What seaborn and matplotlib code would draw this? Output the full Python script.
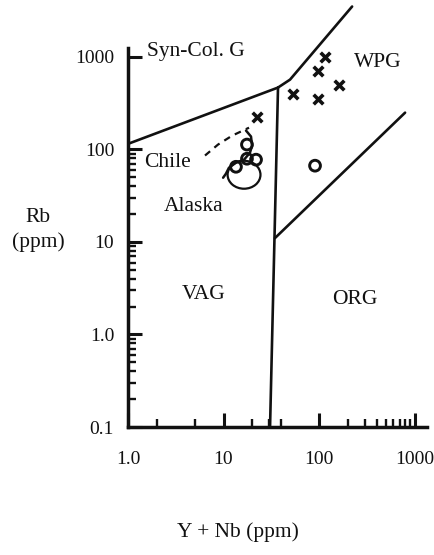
import numpy as np
import pandas as pd
import matplotlib
matplotlib.use("Agg")
import matplotlib.pyplot as plt
from matplotlib.path import Path
from matplotlib.ticker import FixedLocator, FixedFormatter, NullFormatter
import seaborn as sns

# ---------------- data ----------------
# field boundaries (Y+Nb, Rb)
syncol_vag_x = [1.0, 37.2]
syncol_vag_y = [115, 467]
syncol_wpg_x = [37.2, 49.7, 222]
syncol_wpg_y = [467, 569, 3510]
vag_org_x = [30.7, 37.2]
vag_org_y = [0.1, 467]
wpg_org_x = [34.5, 796]
wpg_org_y = [11.0, 250]

# samples
cross_x = [116, 97.7, 162, 53.4, 97.7, 22.4]
cross_y = [1010, 713, 502, 402, 355, 226]
circle_x = [17.6, 17.6, 13.5, 21.9, 90.8]
circle_y = [113, 79.4, 65, 77.6, 66.8]

# field outlines
dashed_field_x = [6.4, 8.76, 12.3, 18.5]
dashed_field_y = [86, 113, 141, 172]
solid_field_x = [17.2, 19.4, 19.9, 18.9, 16.4, 13.5, 11.4, 10.6, 9.9]
solid_field_y = [160, 138, 110, 92, 77.6, 72, 63.5, 54.7, 49.5]
ellipse_x = [16.4]
ellipse_y = [53.3]

# labels
x_ticks = [1, 10, 100, 1000]
x_ticklabels = ["1.0", "10", "100", "1000"]
x_minor = [2, 5, 20, 30, 40, 200, 300, 400, 500, 600, 700, 800, 900]
y_ticks = [0.1, 1, 10, 100, 1000]
y_ticklabels = ["0.1", "1.0", "10", "100", "1000"]
y_minor = [m * 10.0 ** e for e in (-1, 0, 1) for m in range(2, 10)]
region_names = ["Syn-Col. G", "WPG", "Chile", "Alaska", "VAG", "ORG"]
region_x = [5.15, 415, 2.62, 4.91, 6.25, 238]
region_y = [1143, 869, 72, 24, 2.68, 2.37]

# ---------------- style ----------------
sns.set_theme(style="ticks")
plt.rcParams["font.family"] = ["Liberation Serif", "DejaVu Serif"]
INK = "#111111"

fig = plt.figure(figsize=(4.35, 5.55), dpi=100)
ax = fig.add_axes([128 / 435, 1 - 427 / 555, 299 / 435, 379 / 555])
ax.set_xscale("log")
ax.set_yscale("log")
ax.set_xlim(1, 1350)
ax.set_ylim(0.1, 1250)

lw = 1.9
def line(xs, ys, **kw):
    df = pd.DataFrame({"x": xs, "y": ys})
    sns.lineplot(data=df, x="x", y="y", ax=ax, sort=False, estimator=None,
                 color=INK, linewidth=kw.pop("linewidth", lw), **kw)

line(syncol_vag_x, syncol_vag_y)
line(syncol_wpg_x, syncol_wpg_y, clip_on=False)
line(vag_org_x, vag_org_y)
line(wpg_org_x, wpg_org_y)
line(solid_field_x, solid_field_y, linewidth=1.8)
line(dashed_field_x, dashed_field_y, linewidth=1.6, linestyle=(0, (3, 2.5)))

sns.scatterplot(x=cross_x, y=cross_y, ax=ax, marker="x", s=48,
                color=INK, linewidth=2.6)
sns.scatterplot(x=circle_x, y=circle_y, ax=ax, marker="o", s=60,
                facecolor="none", edgecolor=INK, linewidth=2.1)

uc = Path.unit_circle()
ell = Path(uc.vertices * np.array([1.0, 0.85]), uc.codes)
sns.scatterplot(x=ellipse_x, y=ellipse_y, ax=ax, marker=ell, s=560,
                facecolor="none", edgecolor=INK, linewidth=1.6)

for name, xv, yv in zip(region_names, region_x, region_y):
    ax.text(xv, yv, name, ha="center", va="center", fontsize=15.5, color=INK)

# axes
for s in ["top", "right"]:
    ax.spines[s].set_visible(False)
for s in ["left", "bottom"]:
    ax.spines[s].set_linewidth(2.5)
    ax.spines[s].set_color(INK)

ax.xaxis.set_major_locator(FixedLocator(x_ticks))
ax.xaxis.set_major_formatter(FixedFormatter(x_ticklabels))
ax.yaxis.set_major_locator(FixedLocator(y_ticks))
ax.yaxis.set_major_formatter(FixedFormatter(y_ticklabels))
ax.xaxis.set_minor_locator(FixedLocator(x_minor))
ax.yaxis.set_minor_locator(FixedLocator(y_minor))
ax.xaxis.set_minor_formatter(NullFormatter())
ax.yaxis.set_minor_formatter(NullFormatter())
ax.tick_params(which="major", direction="in", length=10, width=2.2, color=INK,
               labelsize=14, labelcolor=INK)
ax.tick_params(which="minor", direction="in", length=6, width=1.7, color=INK)
ax.tick_params(axis="y", which="major", pad=10)
ax.tick_params(axis="x", which="major", pad=17)
ax.set_xlabel("")
ax.set_ylabel("")
ax.grid(False)

fig.text(38 / 435, 1 - 217 / 555, "Rb", ha="center", va="center", fontsize=15.5, color=INK)
fig.text(38 / 435, 1 - 242 / 555, "(ppm)", ha="center", va="center", fontsize=15.5, color=INK)
fig.text(238 / 435, 1 - 532 / 555, "Y + Nb (ppm)", ha="center", va="center", fontsize=15.5, color=INK)

fig.savefig("out.png", dpi=100, facecolor="white")
